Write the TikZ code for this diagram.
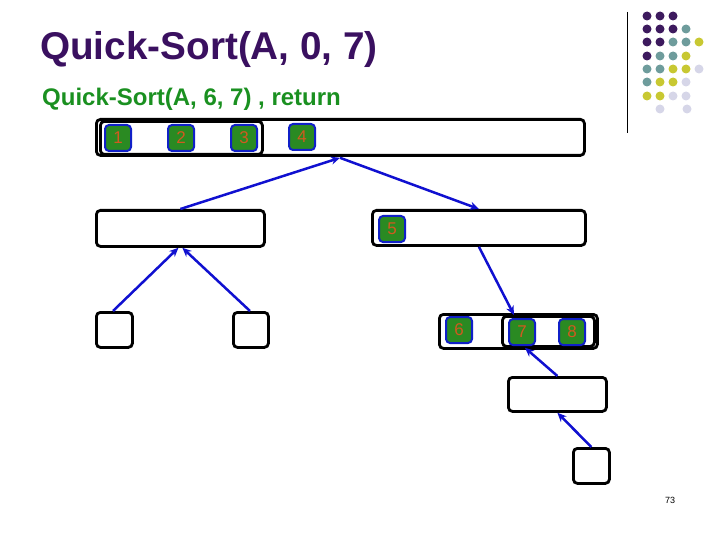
\documentclass[tikz,border=0pt]{standalone}
\usepackage{fontspec}
\setmainfont{Liberation Sans}
\usetikzlibrary{arrows.meta}
\definecolor{titlepurple}{HTML}{3A1060}
\definecolor{subgreen}{HTML}{1A9020}
\definecolor{sqgreen}{HTML}{2A8A22}
\definecolor{sqblue}{HTML}{1020C8}
\definecolor{numorange}{HTML}{D05A20}
\definecolor{arrblue}{HTML}{1010D0}
\definecolor{dotP}{HTML}{3D1A5E}
\definecolor{dotT}{HTML}{6E9C9C}
\definecolor{dotY}{HTML}{C8C832}
\definecolor{dotL}{HTML}{D6D6E8}
\tikzset{
  box/.style={draw=black, line width=2.8pt, rounded corners=4pt, inner sep=0pt, anchor=north west},
  sq/.style={draw=sqblue, fill=sqgreen, line width=2pt, rounded corners=4pt, inner sep=0pt, anchor=north west,
    minimum width=26pt, minimum height=26pt, text=numorange, font=\fontsize{17}{17}\selectfont},
  arr/.style={draw=arrblue, line width=2.5pt, -{Stealth[length=9pt,width=8pt]}},
  dot/.style={circle, inner sep=0pt, minimum size=9pt}
}
\begin{document}
\begin{tikzpicture}[x=1pt,y=-1pt]
\useasboundingbox (0,0) rectangle (720,540);
% titles
\node[anchor=base west, inner sep=0pt, text=titlepurple, font=\bfseries\fontsize{38.7}{46}\selectfont] (title) at (40,60) {Quick-Sort(A, 0, 7)};
\node[anchor=base west, inner sep=0pt, text=subgreen, font=\bfseries\fontsize{24}{28}\selectfont] (sub) at (42,106) {Quick-Sort(A, 6, 7) , return};
% level 1
\node[box, minimum width=488pt, minimum height=36pt] (top) at (95,118) {};
\node[box, minimum width=162pt, minimum height=33pt] (topin) at (99,120) {};
\node[sq] (s1) at (104,124) {1};
\node[sq] (s2) at (167,124) {2};
\node[sq] (s3) at (230,124) {3};
\node[sq] (s4) at (288,123) {4};
% level 2
\node[box, minimum width=168pt, minimum height=36pt] (la) at (95,209) {};
\node[box, minimum width=213pt, minimum height=35pt] (lb) at (371,209) {};
\node[sq] (s5) at (378,215) {5};
% level 3
\node[box, minimum width=36pt, minimum height=35pt] (ca) at (95,311) {};
\node[box, minimum width=35pt, minimum height=35pt] (cb) at (232,311) {};
\node[box, minimum width=158pt, minimum height=34pt] (cc) at (438,313) {};
\node[box, minimum width=92pt, minimum height=30pt] (ccin) at (501,315) {};
\node[sq] (s6) at (445,316) {6};
\node[sq] (s7) at (508,318) {7};
\node[sq] (s8) at (558,318) {8};
% level 4, 5
\node[box, minimum width=98pt, minimum height=34pt] (d) at (507,376) {};
\node[box, minimum width=36pt, minimum height=35pt] (e) at (572,447) {};
% arrows
\draw[arr] (la.north) -- ([xshift=245pt,yshift=-1pt]top.south west);
\draw[arr] ([xshift=245pt,yshift=-1pt]top.south west) -- (lb.north);
\draw[arr] ([xshift=18pt]ca.north west) -- ([xshift=-2pt]la.south);
\draw[arr] ([xshift=18pt]cb.north west) -- ([xshift=2pt]la.south);
\draw[arr] (lb.south) -- ([xshift=13pt]ccin.north west);
\draw[arr] (d.north) -- ([xshift=24pt]ccin.south west);
\draw[arr] (e.north) -- (d.south);
% decoration: vertical line and dots
\draw[line width=1pt] (627,12) -- (627,133);
\foreach \c [count=\i] in {dotP,dotP,dotP}{\node[dot, fill=\c] at ({634+13*\i},16) {};}
\foreach \c [count=\i] in {dotP,dotP,dotP,dotT}{\node[dot, fill=\c] at ({634+13*\i},29) {};}
\foreach \c [count=\i] in {dotP,dotP,dotT,dotT,dotY}{\node[dot, fill=\c] at ({634+13*\i},42) {};}
\foreach \c [count=\i] in {dotP,dotT,dotT,dotY}{\node[dot, fill=\c] at ({634+13*\i},56) {};}
\foreach \c [count=\i] in {dotT,dotT,dotY,dotY,dotL}{\node[dot, fill=\c] at ({634+13*\i},69) {};}
\foreach \c [count=\i] in {dotT,dotY,dotY,dotL}{\node[dot, fill=\c] at ({634+13*\i},82) {};}
\foreach \c [count=\i] in {dotY,dotY,dotL,dotL}{\node[dot, fill=\c] at ({634+13*\i},96) {};}
\node[dot, fill=dotL] at (660,109) {};
\node[dot, fill=dotL] at (687,109) {};
% page number
\node[font=\fontsize{9}{10}\selectfont, inner sep=0pt] (pg) at (670,500) {73};
\end{tikzpicture}
\end{document}
